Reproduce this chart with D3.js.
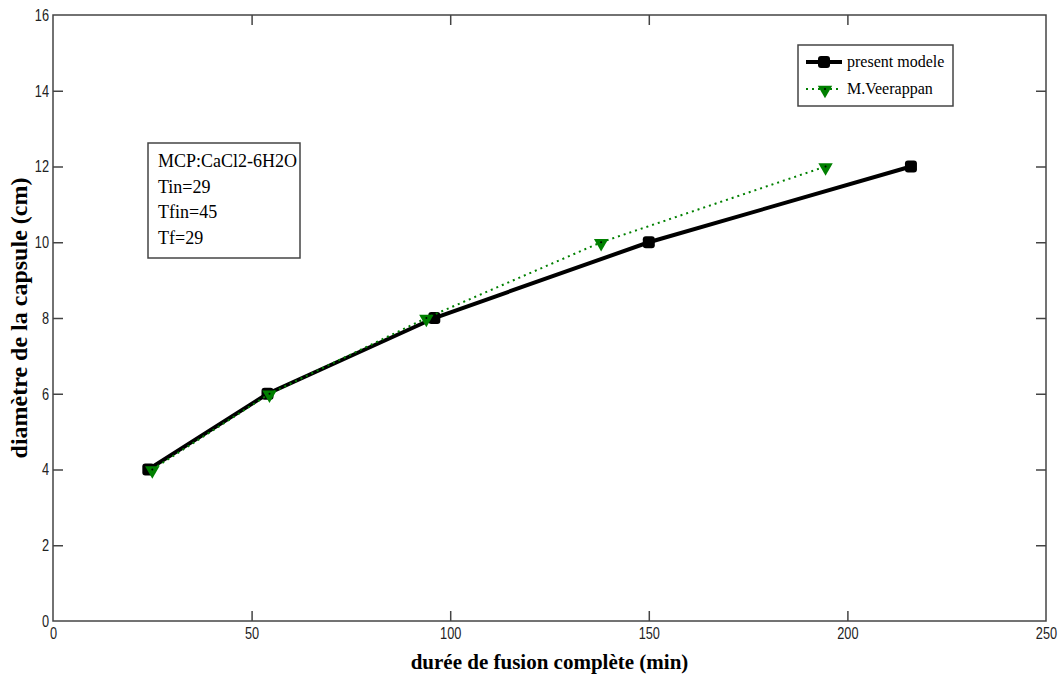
<!DOCTYPE html>
<html>
<head>
<meta charset="utf-8">
<script src="https://cdn.jsdelivr.net/npm/d3@7"></script>
<style>
  body { margin: 0; background: #fff; }
  #c { width: 1063px; height: 677px; }
</style>
</head>
<body>
<div id="c"></div>
<script>
"use strict";

// data
const presentX = [24, 54, 96, 150, 216]
const presentY = [4, 6, 8, 10, 12]
const veerX = [25, 54.5, 94, 138, 194.5]
const veerY = [4, 6, 8, 10, 12]
const xTicks = [0, 50, 100, 150, 200, 250]
const yTicks = [0, 2, 4, 6, 8, 10, 12, 14, 16]
const infoLines = ["MCP:CaCl2-6H2O", "Tin=29", "Tfin=45", "Tf=29"]
const legendNames = ["present modele", "M.Veerappan"]

const green = "#008000"
const tickFont = "'Liberation Sans', Arial, sans-serif"
const serif = "'Liberation Serif', 'Times New Roman', serif"
const squeeze = 0.75

window.onload = function() {
    const margin = {top: 15, right: 17, bottom: 56, left: 53}
    const W = 1063, H = 677
    const width = W - margin.left - margin.right
    const height = H - margin.top - margin.bottom

    let mainSvg = d3.select('#c').append('svg')
        .attr('width', W).attr('height', H)
    let svg = mainSvg.append('g')
        .attr('transform', "translate(" + margin.left + "," + margin.top + ")")

    let xScale = d3.scaleLinear().domain([0, 250]).range([0, width])
    let yScale = d3.scaleLinear().domain([0, 16]).range([height, 0])

    // box
    svg.append('rect')
        .attr('x', 0).attr('y', 0).attr('width', width).attr('height', height)
        .attr('fill', 'none').attr('stroke', '#444').attr('stroke-width', 1.5)

    // axes with inward ticks
    let xAxis = svg.append('g')
        .attr('transform', 'translate(0,' + height + ')')
        .call(d3.axisBottom(xScale).tickValues(xTicks).tickSizeInner(-10).tickSizeOuter(0).tickPadding(6))
    let xAxisTop = svg.append('g')
        .call(d3.axisTop(xScale).tickValues(xTicks).tickSizeInner(-10).tickSizeOuter(0).tickFormat(''))
    let yAxis = svg.append('g')
        .call(d3.axisLeft(yScale).tickValues(yTicks).tickSizeInner(-10).tickSizeOuter(0))
    let yAxisRight = svg.append('g')
        .attr('transform', 'translate(' + width + ',0)')
        .call(d3.axisRight(yScale).tickValues(yTicks).tickSizeInner(-10).tickSizeOuter(0).tickFormat(''))
    ;[xAxis, xAxisTop, yAxis, yAxisRight].forEach(a => {
        a.select('.domain').remove()
        a.selectAll('line').attr('stroke', '#444').attr('stroke-width', 1.5)
        a.selectAll('text').style('font-family', tickFont).style('font-size', '17px').attr('fill', '#222')
            .attr('transform', 'scale(' + squeeze + ',1)')
    })
    // narrow labels: keep them next to the axis after squeezing
    yAxis.selectAll('text').attr('x', -4 / squeeze)
    // hide ticks on the box edges
    xAxis.selectAll('.tick').filter(d => d == 0 || d == 250).select('line').remove()
    xAxisTop.selectAll('.tick').filter(d => d == 0 || d == 250).select('line').remove()
    yAxis.selectAll('.tick').filter(d => d == 0 || d == 16).select('line').remove()
    yAxisRight.selectAll('.tick').filter(d => d == 0 || d == 16).select('line').remove()

    // axis labels
    mainSvg.append('text')
        .text('durée de fusion complète (min)')
        .attr('x', margin.left + width / 2).attr('y', 669)
        .attr('text-anchor', 'middle')
        .style('font-family', serif).style('font-weight', 'bold').style('font-size', '21px')
    mainSvg.append('text')
        .text('diamètre de la capsule (cm)')
        .attr('transform', 'translate(27,' + (margin.top + height / 2) + ') rotate(-90)')
        .attr('text-anchor', 'middle')
        .style('font-family', serif).style('font-weight', 'bold').style('font-size', '24px')

    const line = d3.line().x(d => xScale(d[0])).y(d => yScale(d[1]))
    const present = presentX.map((x, i) => [x, presentY[i]])
    const veer = veerX.map((x, i) => [x, veerY[i]])

    // present modele
    svg.append('path').datum(present)
        .attr('fill', 'none').attr('stroke', '#000').attr('stroke-width', 4)
        .attr('d', line)
    svg.selectAll('rect.pm').data(present).enter().append('rect')
        .attr('class', 'pm')
        .attr('x', d => xScale(d[0]) - 6).attr('y', d => yScale(d[1]) - 6)
        .attr('width', 12).attr('height', 12).attr('rx', 3)
        .attr('fill', '#000')

    // M.Veerappan
    svg.append('path').datum(veer)
        .attr('fill', 'none').attr('stroke', green).attr('stroke-width', 2)
        .attr('stroke-dasharray', '2,4')
        .attr('d', line)
    const tri = d3.symbol().type(d3.symbolTriangle).size(90)
    svg.selectAll('path.mv').data(veer).enter().append('path')
        .attr('class', 'mv')
        .attr('d', tri)
        .attr('transform', d => 'translate(' + xScale(d[0]) + ',' + (yScale(d[1]) + 1) + ') rotate(180)')
        .attr('fill', green)
    svg.selectAll('circle.mvdot').data(veer).enter().append('circle')
        .attr('class', 'mvdot')
        .attr('cx', d => xScale(d[0])).attr('cy', d => yScale(d[1]))
        .attr('r', 1).attr('fill', '#000')

    // info box
    let info = mainSvg.append('g').attr('transform', 'translate(148,143)')
    info.append('rect')
        .attr('width', 152).attr('height', 115)
        .attr('fill', '#fff').attr('stroke', '#444').attr('stroke-width', 1.5)
    info.selectAll('text').data(infoLines).enter().append('text')
        .text(d => d)
        .attr('x', 10).attr('y', (d, i) => 24 + i * 25.5)
        .style('font-family', serif).style('font-size', '18px')

    // legend
    let lg = mainSvg.append('g').attr('transform', 'translate(798,45)')
    lg.append('rect')
        .attr('width', 155).attr('height', 61)
        .attr('fill', '#fff').attr('stroke', '#444').attr('stroke-width', 1.5)
    lg.append('line').attr('x1', 8).attr('x2', 44).attr('y1', 17).attr('y2', 17)
        .attr('stroke', '#000').attr('stroke-width', 4)
    lg.append('rect').attr('x', 20).attr('y', 11).attr('width', 12).attr('height', 12).attr('rx', 3)
        .attr('fill', '#000')
    lg.append('line').attr('x1', 8).attr('x2', 44).attr('y1', 44).attr('y2', 44)
        .attr('stroke', green).attr('stroke-width', 2).attr('stroke-dasharray', '2,4')
    lg.append('path').attr('d', tri)
        .attr('transform', 'translate(27,45) rotate(180)').attr('fill', green)
    lg.append('circle').attr('cx', 27).attr('cy', 44).attr('r', 1).attr('fill', '#000')
    lg.selectAll('text').data(legendNames).enter().append('text')
        .text(d => d)
        .attr('x', 49).attr('y', (d, i) => 22 + i * 27)
        .style('font-family', serif).style('font-size', '16px')
}
</script>
</body>
</html>
